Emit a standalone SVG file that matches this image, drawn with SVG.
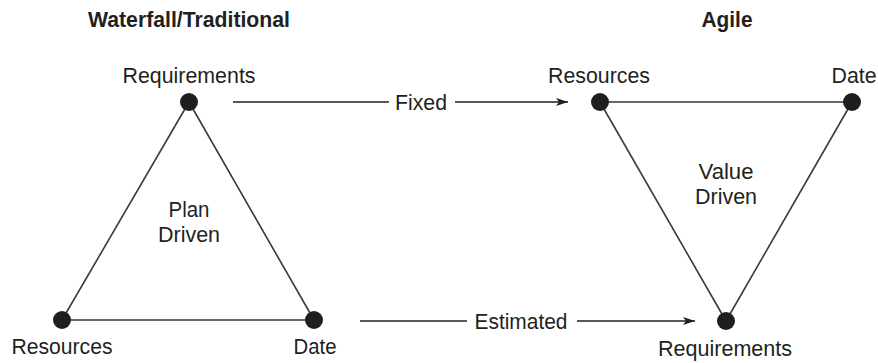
<svg xmlns="http://www.w3.org/2000/svg" width="878" height="363" viewBox="0 0 878 363">
<defs>
<marker id="arr" viewBox="0 0 12 8" refX="12" refY="4" markerWidth="12" markerHeight="8" markerUnits="userSpaceOnUse" orient="auto">
<path d="M0,0 L12,4 L0,8 L3,4 Z" fill="#231f20"/>
</marker>
</defs>
<style>
text{font-family:"Liberation Sans",Arial,sans-serif;fill:#231f20;font-size:22px;}
.t{font-weight:bold;font-size:22px;}
.edge{stroke:#3a3a3a;stroke-width:1.6;fill:none;}
.flat{stroke:#666;stroke-width:2.2;fill:none;}
.conn{stroke:#231f20;stroke-width:1.6;fill:none;}
.dot{fill:#1e1e1e;}
</style>
<rect width="878" height="363" fill="#fff"/>
<text class="t" x="189" y="27" text-anchor="middle" textLength="202" lengthAdjust="spacingAndGlyphs">Waterfall/Traditional</text>
<text class="t" x="727" y="27" text-anchor="middle" textLength="51" lengthAdjust="spacingAndGlyphs">Agile</text>
<g id="edges">
<line class="edge" x1="189" y1="102" x2="62" y2="320"/>
<line class="edge" x1="189" y1="102" x2="314" y2="320"/>
<line class="flat" x1="62" y1="320" x2="314" y2="320"/>
<line class="flat" x1="600" y1="102" x2="852" y2="102"/>
<line class="edge" x1="600" y1="102" x2="726" y2="321"/>
<line class="edge" x1="852" y1="102" x2="726" y2="321"/>
</g>
<g id="connectors">
<line class="conn" x1="233" y1="102" x2="389" y2="102"/>
<line class="conn" x1="455" y1="102" x2="568" y2="102" marker-end="url(#arr)"/>
<line class="conn" x1="360" y1="321" x2="467" y2="321"/>
<line class="conn" x1="577" y1="321" x2="695" y2="321" marker-end="url(#arr)"/>
<text x="421" y="110" text-anchor="middle" textLength="52" lengthAdjust="spacingAndGlyphs">Fixed</text>
<text x="521" y="329" text-anchor="middle" textLength="93" lengthAdjust="spacingAndGlyphs">Estimated</text>
</g>
<g id="wf-requirements">
<circle class="dot" cx="189" cy="102" r="9"/>
<text x="189" y="83" text-anchor="middle" textLength="133" lengthAdjust="spacingAndGlyphs">Requirements</text>
</g>
<g id="wf-resources">
<circle class="dot" cx="62" cy="320" r="9"/>
<text x="62" y="354" text-anchor="middle" textLength="101" lengthAdjust="spacingAndGlyphs">Resources</text>
</g>
<g id="wf-date">
<circle class="dot" cx="314" cy="320" r="9"/>
<text x="315" y="354" text-anchor="middle" textLength="43" lengthAdjust="spacingAndGlyphs">Date</text>
</g>
<g id="wf-center">
<text x="189" y="217" text-anchor="middle" textLength="41" lengthAdjust="spacingAndGlyphs">Plan</text>
<text x="189" y="242" text-anchor="middle" textLength="62" lengthAdjust="spacingAndGlyphs">Driven</text>
</g>
<g id="ag-resources">
<circle class="dot" cx="600" cy="102" r="9"/>
<text x="599" y="83" text-anchor="middle" textLength="102" lengthAdjust="spacingAndGlyphs">Resources</text>
</g>
<g id="ag-date">
<circle class="dot" cx="852" cy="102" r="9"/>
<text x="854" y="83" text-anchor="middle" textLength="45" lengthAdjust="spacingAndGlyphs">Date</text>
</g>
<g id="ag-requirements">
<circle class="dot" cx="726" cy="321" r="9"/>
<text x="725" y="356" text-anchor="middle" textLength="134" lengthAdjust="spacingAndGlyphs">Requirements</text>
</g>
<g id="ag-center">
<text x="726" y="179" text-anchor="middle" textLength="55" lengthAdjust="spacingAndGlyphs">Value</text>
<text x="726" y="204" text-anchor="middle" textLength="62" lengthAdjust="spacingAndGlyphs">Driven</text>
</g>
</svg>
